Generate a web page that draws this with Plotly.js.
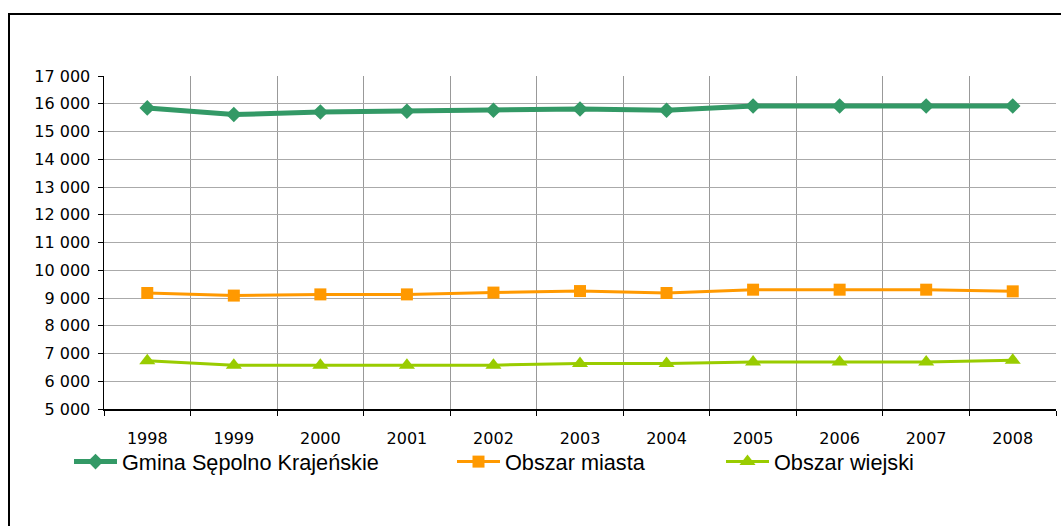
<!DOCTYPE html>
<html>
<head>
<meta charset="utf-8">
<script src="https://cdn.plot.ly/plotly-3.0.1.min.js"></script>
<style>
html,body{margin:0;padding:0;background:#fff;}
#chart{width:1061px;height:526px;}
</style>
</head>
<body>
<div id="chart"></div>
<script>
const years = ['1998','1999','2000','2001','2002','2003','2004','2005','2006','2007','2008'];
const gmina = [15850, 15610, 15700, 15730, 15765, 15810, 15765, 15920, 15920, 15920, 15920];
const miasto = [9180, 9087, 9130, 9130, 9195, 9250, 9180, 9300, 9300, 9300, 9240];
const wies = [6736, 6580, 6580, 6580, 6580, 6640, 6640, 6690, 6690, 6690, 6760];
const seriesNames = ['Gmina Sępolno Krajeńskie', 'Obszar miasta', 'Obszar wiejski'];
const yTicks = [5000, 6000, 7000, 8000, 9000, 10000, 11000, 12000, 13000, 14000, 15000, 16000, 17000];

const traces = [
  {x: years, y: gmina, name: seriesNames[0], type: 'scatter', mode: 'lines+markers',
   line: {color: '#339966', width: 5}, marker: {symbol: 'diamond', size: 12, color: '#339966'}, legend: 'legend'},
  {x: years, y: miasto, name: seriesNames[1], type: 'scatter', mode: 'lines+markers',
   line: {color: '#FF9900', width: 3}, marker: {symbol: 'square', size: 12, color: '#FF9900'}, legend: 'legend2'},
  {x: years, y: wies, name: seriesNames[2], type: 'scatter', mode: 'lines+markers',
   line: {color: '#99CC00', width: 3}, marker: {symbol: 'triangle-up', size: 14, color: '#99CC00'}, legend: 'legend3'}
];

const legendBase = {orientation: 'h', xref: 'container', yref: 'container', yanchor: 'middle', xanchor: 'left',
  y: 1 - 462/526, font: {family: 'Liberation Sans, Arial, sans-serif', size: 21.7, color: '#000'},
  bgcolor: 'rgba(0,0,0,0)', borderwidth: 0, itemwidth: 43};

const layout = {
  width: 1061, height: 526,
  margin: {l: 104, r: 5, t: 76, b: 117},
  paper_bgcolor: '#fff', plot_bgcolor: '#fff',
  separators: ', ',
  showlegend: true,
  legend: Object.assign({}, legendBase, {x: 69/1061}),
  legend2: Object.assign({}, legendBase, {x: 452/1061}),
  legend3: Object.assign({}, legendBase, {x: 721/1061}),
  xaxis: {type: 'category', range: [-0.5, 10.5], tickson: 'boundaries', showgrid: true, gridcolor: '#999', gridwidth: 1,
    showline: true, linecolor: '#000', linewidth: 1.5, ticks: 'outside', ticklen: 5, tickcolor: '#000',
    tickfont: {family: 'DejaVu Sans, sans-serif', size: 16, color: '#000'}, ticklabelstandoff: 14,
    zeroline: false, fixedrange: true},
  yaxis: {range: [5000, 17000], tickvals: yTicks, tickformat: ',d', showgrid: true, gridcolor: '#aaa', gridwidth: 1,
    showline: true, linecolor: '#000', linewidth: 1.5, ticks: 'outside', ticklen: 5, tickcolor: '#000',
    tickfont: {family: 'DejaVu Sans, sans-serif', size: 16, color: '#000'}, ticklabelstandoff: 4,
    zeroline: false, fixedrange: true},
  shapes: [{type: 'rect', xref: 'paper', yref: 'paper', layer: 'below',
    x0: (9 - 104) / 952, x1: (1075 - 104) / 952, y0: (409 - 545) / 333, y1: (409 - 14) / 333,
    line: {color: '#000', width: 2}, fillcolor: 'rgba(0,0,0,0)'}]
};

Plotly.newPlot('chart', traces, layout, {displayModeBar: false, staticPlot: true});
</script>
</body>
</html>
